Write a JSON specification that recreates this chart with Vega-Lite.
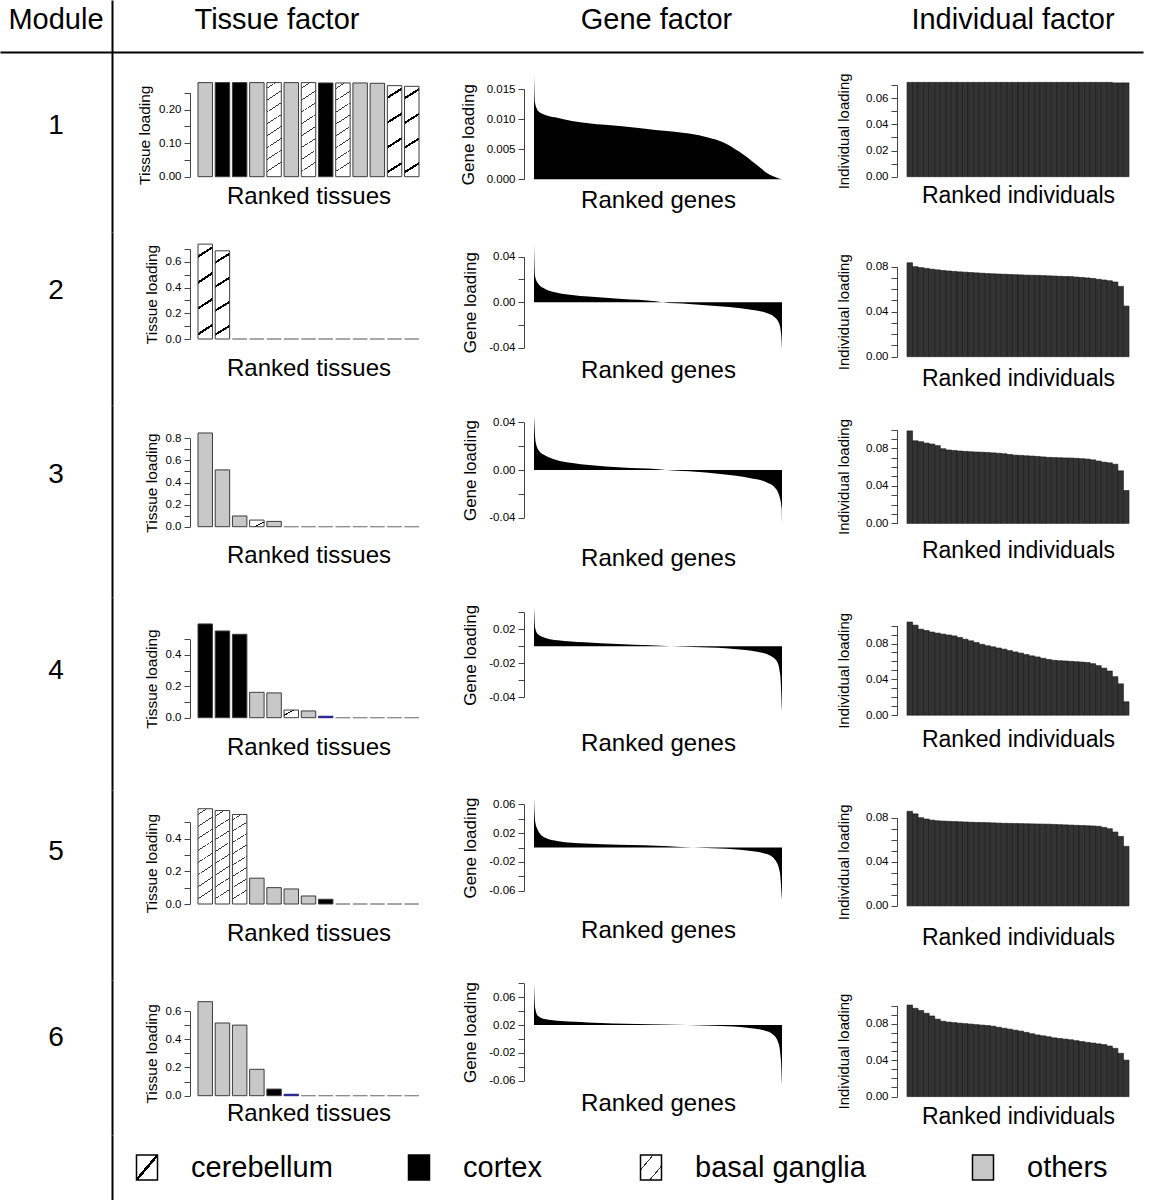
{
"$schema":"https://vega.github.io/schema/vega-lite/v6.json",
"padding":0,
"background":"#ffffff",
"config":{"font":"Liberation Sans","view":{"stroke":null},
"axis":{"grid":false,"labelFontSize":11.5,"labelColor":"#000000","tickColor":"#444444","domainColor":"#444444","tickSize":6,"labelPadding":3,"titleFontWeight":"normal","titleColor":"#000000","labelOverlap":false,"labelFlush":false},
"axisX":{"domain":false,"ticks":false,"labels":false,"titleFontSize":24,"titlePadding":0},
"axisY":{"titleFontSize":15.5}},
"datasets":{
"tissue":[
{"module":1,"rank":1,"loading":0.28,"tissue":"others"},{"module":1,"rank":2,"loading":0.28,"tissue":"cortex"},{"module":1,"rank":3,"loading":0.28,"tissue":"cortex"},{"module":1,"rank":4,"loading":0.28,"tissue":"others"},{"module":1,"rank":5,"loading":0.28,"tissue":"basal ganglia"},{"module":1,"rank":6,"loading":0.28,"tissue":"others"},{"module":1,"rank":7,"loading":0.28,"tissue":"basal ganglia"},{"module":1,"rank":8,"loading":0.279,"tissue":"cortex"},{"module":1,"rank":9,"loading":0.279,"tissue":"basal ganglia"},{"module":1,"rank":10,"loading":0.279,"tissue":"others"},{"module":1,"rank":11,"loading":0.278,"tissue":"others"},{"module":1,"rank":12,"loading":0.271,"tissue":"cerebellum"},{"module":1,"rank":13,"loading":0.269,"tissue":"cerebellum"},
{"module":2,"rank":1,"loading":0.738,"tissue":"cerebellum"},{"module":2,"rank":2,"loading":0.686,"tissue":"cerebellum"},{"module":2,"rank":3,"loading":0,"tissue":"others"},{"module":2,"rank":4,"loading":0,"tissue":"others"},{"module":2,"rank":5,"loading":0,"tissue":"others"},{"module":2,"rank":6,"loading":0,"tissue":"others"},{"module":2,"rank":7,"loading":0,"tissue":"others"},{"module":2,"rank":8,"loading":0,"tissue":"others"},{"module":2,"rank":9,"loading":0,"tissue":"others"},{"module":2,"rank":10,"loading":0,"tissue":"others"},{"module":2,"rank":11,"loading":0,"tissue":"others"},{"module":2,"rank":12,"loading":0,"tissue":"others"},{"module":2,"rank":13,"loading":0,"tissue":"others"},
{"module":3,"rank":1,"loading":0.848,"tissue":"others"},{"module":3,"rank":2,"loading":0.514,"tissue":"others"},{"module":3,"rank":3,"loading":0.097,"tissue":"others"},{"module":3,"rank":4,"loading":0.06,"tissue":"cerebellum"},{"module":3,"rank":5,"loading":0.048,"tissue":"others"},{"module":3,"rank":6,"loading":0,"tissue":"others"},{"module":3,"rank":7,"loading":0,"tissue":"others"},{"module":3,"rank":8,"loading":0,"tissue":"others"},{"module":3,"rank":9,"loading":0,"tissue":"others"},{"module":3,"rank":10,"loading":0,"tissue":"others"},{"module":3,"rank":11,"loading":0,"tissue":"others"},{"module":3,"rank":12,"loading":0,"tissue":"others"},{"module":3,"rank":13,"loading":0,"tissue":"others"},
{"module":4,"rank":1,"loading":0.598,"tissue":"cortex"},{"module":4,"rank":2,"loading":0.553,"tissue":"cortex"},{"module":4,"rank":3,"loading":0.532,"tissue":"cortex"},{"module":4,"rank":4,"loading":0.162,"tissue":"others"},{"module":4,"rank":5,"loading":0.158,"tissue":"others"},{"module":4,"rank":6,"loading":0.049,"tissue":"cerebellum"},{"module":4,"rank":7,"loading":0.043,"tissue":"others"},{"module":4,"rank":8,"loading":0.009,"tissue":"unlabelled"},{"module":4,"rank":9,"loading":0,"tissue":"others"},{"module":4,"rank":10,"loading":0,"tissue":"others"},{"module":4,"rank":11,"loading":0,"tissue":"others"},{"module":4,"rank":12,"loading":0,"tissue":"others"},{"module":4,"rank":13,"loading":0,"tissue":"others"},
{"module":5,"rank":1,"loading":0.583,"tissue":"basal ganglia"},{"module":5,"rank":2,"loading":0.572,"tissue":"basal ganglia"},{"module":5,"rank":3,"loading":0.548,"tissue":"basal ganglia"},{"module":5,"rank":4,"loading":0.158,"tissue":"others"},{"module":5,"rank":5,"loading":0.1,"tissue":"others"},{"module":5,"rank":6,"loading":0.092,"tissue":"others"},{"module":5,"rank":7,"loading":0.049,"tissue":"others"},{"module":5,"rank":8,"loading":0.029,"tissue":"cortex"},{"module":5,"rank":9,"loading":0,"tissue":"others"},{"module":5,"rank":10,"loading":0,"tissue":"others"},{"module":5,"rank":11,"loading":0,"tissue":"others"},{"module":5,"rank":12,"loading":0,"tissue":"others"},{"module":5,"rank":13,"loading":0,"tissue":"others"},
{"module":6,"rank":1,"loading":0.666,"tissue":"others"},{"module":6,"rank":2,"loading":0.515,"tissue":"others"},{"module":6,"rank":3,"loading":0.5,"tissue":"others"},{"module":6,"rank":4,"loading":0.187,"tissue":"others"},{"module":6,"rank":5,"loading":0.047,"tissue":"cortex"},{"module":6,"rank":6,"loading":0.01,"tissue":"unlabelled"},{"module":6,"rank":7,"loading":0,"tissue":"others"},{"module":6,"rank":8,"loading":0,"tissue":"others"},{"module":6,"rank":9,"loading":0,"tissue":"others"},{"module":6,"rank":10,"loading":0,"tissue":"others"},{"module":6,"rank":11,"loading":0,"tissue":"others"},{"module":6,"rank":12,"loading":0,"tissue":"others"},{"module":6,"rank":13,"loading":0,"tissue":"others"}
],
"gene":[
{"module":1,"rank":0,"loading":0.0174},{"module":1,"rank":0.4,"loading":0.0127},{"module":1,"rank":1.8,"loading":0.0113},{"module":1,"rank":4.5,"loading":0.0107},{"module":1,"rank":8.5,"loading":0.0103},{"module":1,"rank":15.3,"loading":0.0097},{"module":1,"rank":22,"loading":0.0093},{"module":1,"rank":35.5,"loading":0.0088},{"module":1,"rank":49,"loading":0.0082},{"module":1,"rank":62.5,"loading":0.0076},{"module":1,"rank":70.6,"loading":0.0069},{"module":1,"rank":76,"loading":0.0062},{"module":1,"rank":82.7,"loading":0.0046},{"module":1,"rank":89.5,"loading":0.0025},{"module":1,"rank":94.9,"loading":0.0008},{"module":1,"rank":100,"loading":0},
{"module":2,"rank":0,"loading":0.051},{"module":2,"rank":0.4,"loading":0.023},{"module":2,"rank":1.8,"loading":0.016},{"module":2,"rank":4.5,"loading":0.0117},{"module":2,"rank":8.5,"loading":0.0088},{"module":2,"rank":15.3,"loading":0.0064},{"module":2,"rank":22,"loading":0.005},{"module":2,"rank":35.5,"loading":0.0029},{"module":2,"rank":49,"loading":0.0009},{"module":2,"rank":51.7,"loading":0},{"module":2,"rank":62.5,"loading":-0.0015},{"module":2,"rank":76,"loading":-0.0038},{"module":2,"rank":86.8,"loading":-0.0064},{"module":2,"rank":93.5,"loading":-0.0093},{"module":2,"rank":96.9,"loading":-0.013},{"module":2,"rank":98.9,"loading":-0.019},{"module":2,"rank":99.7,"loading":-0.029},{"module":2,"rank":100,"loading":-0.0415},
{"module":3,"rank":0,"loading":0.0456},{"module":3,"rank":0.7,"loading":0.023},{"module":3,"rank":2,"loading":0.0162},{"module":3,"rank":4.7,"loading":0.012},{"module":3,"rank":8.7,"loading":0.0087},{"module":3,"rank":15.5,"loading":0.0059},{"module":3,"rank":22.2,"loading":0.0042},{"module":3,"rank":35.7,"loading":0.0022},{"module":3,"rank":49.1,"loading":0.0008},{"module":3,"rank":53.2,"loading":0},{"module":3,"rank":62.6,"loading":-0.0011},{"module":3,"rank":76.1,"loading":-0.0036},{"module":3,"rank":86.9,"loading":-0.0067},{"module":3,"rank":93.7,"loading":-0.0103},{"module":3,"rank":97,"loading":-0.0145},{"module":3,"rank":99.1,"loading":-0.023},{"module":3,"rank":99.9,"loading":-0.033},{"module":3,"rank":100,"loading":-0.044},
{"module":4,"rank":0,"loading":0.0467},{"module":4,"rank":0.5,"loading":0.0212},{"module":4,"rank":1.6,"loading":0.0141},{"module":4,"rank":4.3,"loading":0.0102},{"module":4,"rank":9.6,"loading":0.0071},{"module":4,"rank":20.3,"loading":0.0047},{"module":4,"rank":33.7,"loading":0.0027},{"module":4,"rank":47.1,"loading":0.0012},{"module":4,"rank":55.2,"loading":0},{"module":4,"rank":67.2,"loading":-0.0012},{"module":4,"rank":80.6,"loading":-0.0031},{"module":4,"rank":90,"loading":-0.0063},{"module":4,"rank":95.3,"loading":-0.011},{"module":4,"rank":98,"loading":-0.018},{"module":4,"rank":99.3,"loading":-0.034},{"module":4,"rank":100,"loading":-0.077},
{"module":5,"rank":0,"loading":0.068},{"module":5,"rank":0.5,"loading":0.0356},{"module":5,"rank":1.6,"loading":0.024},{"module":5,"rank":4.3,"loading":0.0139},{"module":5,"rank":9.8,"loading":0.0088},{"module":5,"rank":20.6,"loading":0.0055},{"module":5,"rank":34.2,"loading":0.0037},{"module":5,"rank":54.5,"loading":0.0018},{"module":5,"rank":64,"loading":0},{"module":5,"rank":74.9,"loading":-0.0014},{"module":5,"rank":85.8,"loading":-0.0042},{"module":5,"rank":93.9,"loading":-0.0092},{"module":5,"rank":97.3,"loading":-0.0176},{"module":5,"rank":99.1,"loading":-0.0338},{"module":5,"rank":100,"loading":-0.073},
{"module":6,"rank":0,"loading":0.0795},{"module":6,"rank":0.5,"loading":0.0438},{"module":6,"rank":1.6,"loading":0.0333},{"module":6,"rank":4.3,"loading":0.0286},{"module":6,"rank":11,"loading":0.0257},{"module":6,"rank":21.7,"loading":0.0238},{"module":6,"rank":41.8,"loading":0.0214},{"module":6,"rank":61.8,"loading":0.02},{"module":6,"rank":75.2,"loading":0.0186},{"module":6,"rank":85.9,"loading":0.0162},{"module":6,"rank":92.6,"loading":0.0124},{"module":6,"rank":96.6,"loading":0.0057},{"module":6,"rank":98.6,"loading":-0.0062},{"module":6,"rank":99.6,"loading":-0.032},{"module":6,"rank":100,"loading":-0.0657}
],
"indiv":[
{"module":1,"rank":1,"loading":0.072},{"module":1,"rank":2,"loading":0.072},{"module":1,"rank":3,"loading":0.072},{"module":1,"rank":4,"loading":0.072},{"module":1,"rank":5,"loading":0.072},{"module":1,"rank":6,"loading":0.072},{"module":1,"rank":7,"loading":0.072},{"module":1,"rank":8,"loading":0.072},{"module":1,"rank":9,"loading":0.072},{"module":1,"rank":10,"loading":0.072},{"module":1,"rank":11,"loading":0.072},{"module":1,"rank":12,"loading":0.072},{"module":1,"rank":13,"loading":0.072},{"module":1,"rank":14,"loading":0.072},{"module":1,"rank":15,"loading":0.072},{"module":1,"rank":16,"loading":0.072},{"module":1,"rank":17,"loading":0.072},{"module":1,"rank":18,"loading":0.072},{"module":1,"rank":19,"loading":0.072},{"module":1,"rank":20,"loading":0.072},{"module":1,"rank":21,"loading":0.072},{"module":1,"rank":22,"loading":0.072},{"module":1,"rank":23,"loading":0.072},{"module":1,"rank":24,"loading":0.072},{"module":1,"rank":25,"loading":0.072},{"module":1,"rank":26,"loading":0.072},{"module":1,"rank":27,"loading":0.072},{"module":1,"rank":28,"loading":0.072},{"module":1,"rank":29,"loading":0.072},{"module":1,"rank":30,"loading":0.072},{"module":1,"rank":31,"loading":0.072},{"module":1,"rank":32,"loading":0.072},{"module":1,"rank":33,"loading":0.072},{"module":1,"rank":34,"loading":0.072},{"module":1,"rank":35,"loading":0.072},{"module":1,"rank":36,"loading":0.072},{"module":1,"rank":37,"loading":0.072},{"module":1,"rank":38,"loading":0.0716},{"module":1,"rank":39,"loading":0.0716},{"module":1,"rank":40,"loading":0.0716},
{"module":2,"rank":1,"loading":0.0835},{"module":2,"rank":2,"loading":0.08},{"module":2,"rank":3,"loading":0.0792},{"module":2,"rank":4,"loading":0.0785},{"module":2,"rank":5,"loading":0.0778},{"module":2,"rank":6,"loading":0.0772},{"module":2,"rank":7,"loading":0.0766},{"module":2,"rank":8,"loading":0.0762},{"module":2,"rank":9,"loading":0.0758},{"module":2,"rank":10,"loading":0.0754},{"module":2,"rank":11,"loading":0.0751},{"module":2,"rank":12,"loading":0.0748},{"module":2,"rank":13,"loading":0.0745},{"module":2,"rank":14,"loading":0.0742},{"module":2,"rank":15,"loading":0.0739},{"module":2,"rank":16,"loading":0.0737},{"module":2,"rank":17,"loading":0.0735},{"module":2,"rank":18,"loading":0.0733},{"module":2,"rank":19,"loading":0.0731},{"module":2,"rank":20,"loading":0.0729},{"module":2,"rank":21,"loading":0.0727},{"module":2,"rank":22,"loading":0.0725},{"module":2,"rank":23,"loading":0.0724},{"module":2,"rank":24,"loading":0.0723},{"module":2,"rank":25,"loading":0.0721},{"module":2,"rank":26,"loading":0.0719},{"module":2,"rank":27,"loading":0.0717},{"module":2,"rank":28,"loading":0.0715},{"module":2,"rank":29,"loading":0.0713},{"module":2,"rank":30,"loading":0.0712},{"module":2,"rank":31,"loading":0.0708},{"module":2,"rank":32,"loading":0.0704},{"module":2,"rank":33,"loading":0.07},{"module":2,"rank":34,"loading":0.0695},{"module":2,"rank":35,"loading":0.0688},{"module":2,"rank":36,"loading":0.0682},{"module":2,"rank":37,"loading":0.0675},{"module":2,"rank":38,"loading":0.0664},{"module":2,"rank":39,"loading":0.0625},{"module":2,"rank":40,"loading":0.045},
{"module":3,"rank":1,"loading":0.0985},{"module":3,"rank":2,"loading":0.088},{"module":3,"rank":3,"loading":0.087},{"module":3,"rank":4,"loading":0.0855},{"module":3,"rank":5,"loading":0.0845},{"module":3,"rank":6,"loading":0.0828},{"module":3,"rank":7,"loading":0.0795},{"module":3,"rank":8,"loading":0.0782},{"module":3,"rank":9,"loading":0.0776},{"module":3,"rank":10,"loading":0.0771},{"module":3,"rank":11,"loading":0.0767},{"module":3,"rank":12,"loading":0.0763},{"module":3,"rank":13,"loading":0.076},{"module":3,"rank":14,"loading":0.0758},{"module":3,"rank":15,"loading":0.0755},{"module":3,"rank":16,"loading":0.0751},{"module":3,"rank":17,"loading":0.0747},{"module":3,"rank":18,"loading":0.0742},{"module":3,"rank":19,"loading":0.0734},{"module":3,"rank":20,"loading":0.0727},{"module":3,"rank":21,"loading":0.0724},{"module":3,"rank":22,"loading":0.072},{"module":3,"rank":23,"loading":0.0717},{"module":3,"rank":24,"loading":0.0713},{"module":3,"rank":25,"loading":0.0708},{"module":3,"rank":26,"loading":0.0703},{"module":3,"rank":27,"loading":0.0701},{"module":3,"rank":28,"loading":0.0699},{"module":3,"rank":29,"loading":0.0697},{"module":3,"rank":30,"loading":0.0696},{"module":3,"rank":31,"loading":0.0693},{"module":3,"rank":32,"loading":0.0689},{"module":3,"rank":33,"loading":0.0685},{"module":3,"rank":34,"loading":0.0677},{"module":3,"rank":35,"loading":0.0664},{"module":3,"rank":36,"loading":0.0652},{"module":3,"rank":37,"loading":0.0645},{"module":3,"rank":38,"loading":0.063},{"module":3,"rank":39,"loading":0.056},{"module":3,"rank":40,"loading":0.035},
{"module":4,"rank":1,"loading":0.104},{"module":4,"rank":2,"loading":0.1005},{"module":4,"rank":3,"loading":0.096},{"module":4,"rank":4,"loading":0.0945},{"module":4,"rank":5,"loading":0.0928},{"module":4,"rank":6,"loading":0.0916},{"module":4,"rank":7,"loading":0.0905},{"module":4,"rank":8,"loading":0.0895},{"module":4,"rank":9,"loading":0.0885},{"module":4,"rank":10,"loading":0.0868},{"module":4,"rank":11,"loading":0.0848},{"module":4,"rank":12,"loading":0.083},{"module":4,"rank":13,"loading":0.0811},{"module":4,"rank":14,"loading":0.0791},{"module":4,"rank":15,"loading":0.0775},{"module":4,"rank":16,"loading":0.0763},{"module":4,"rank":17,"loading":0.075},{"module":4,"rank":18,"loading":0.0737},{"module":4,"rank":19,"loading":0.0721},{"module":4,"rank":20,"loading":0.0706},{"module":4,"rank":21,"loading":0.0693},{"module":4,"rank":22,"loading":0.0677},{"module":4,"rank":23,"loading":0.0662},{"module":4,"rank":24,"loading":0.065},{"module":4,"rank":25,"loading":0.0635},{"module":4,"rank":26,"loading":0.0622},{"module":4,"rank":27,"loading":0.0613},{"module":4,"rank":28,"loading":0.0608},{"module":4,"rank":29,"loading":0.0605},{"module":4,"rank":30,"loading":0.0601},{"module":4,"rank":31,"loading":0.0597},{"module":4,"rank":32,"loading":0.0593},{"module":4,"rank":33,"loading":0.0588},{"module":4,"rank":34,"loading":0.0575},{"module":4,"rank":35,"loading":0.0553},{"module":4,"rank":36,"loading":0.0525},{"module":4,"rank":37,"loading":0.0493},{"module":4,"rank":38,"loading":0.043},{"module":4,"rank":39,"loading":0.035},{"module":4,"rank":40,"loading":0.015},
{"module":5,"rank":1,"loading":0.0858},{"module":5,"rank":2,"loading":0.0835},{"module":5,"rank":3,"loading":0.08},{"module":5,"rank":4,"loading":0.0788},{"module":5,"rank":5,"loading":0.0778},{"module":5,"rank":6,"loading":0.0772},{"module":5,"rank":7,"loading":0.0769},{"module":5,"rank":8,"loading":0.0767},{"module":5,"rank":9,"loading":0.0765},{"module":5,"rank":10,"loading":0.0763},{"module":5,"rank":11,"loading":0.0761},{"module":5,"rank":12,"loading":0.0759},{"module":5,"rank":13,"loading":0.0757},{"module":5,"rank":14,"loading":0.0756},{"module":5,"rank":15,"loading":0.0755},{"module":5,"rank":16,"loading":0.0753},{"module":5,"rank":17,"loading":0.0751},{"module":5,"rank":18,"loading":0.0749},{"module":5,"rank":19,"loading":0.0748},{"module":5,"rank":20,"loading":0.0747},{"module":5,"rank":21,"loading":0.0746},{"module":5,"rank":22,"loading":0.0745},{"module":5,"rank":23,"loading":0.0744},{"module":5,"rank":24,"loading":0.0743},{"module":5,"rank":25,"loading":0.0742},{"module":5,"rank":26,"loading":0.0741},{"module":5,"rank":27,"loading":0.0739},{"module":5,"rank":28,"loading":0.0737},{"module":5,"rank":29,"loading":0.0735},{"module":5,"rank":30,"loading":0.0733},{"module":5,"rank":31,"loading":0.0731},{"module":5,"rank":32,"loading":0.0729},{"module":5,"rank":33,"loading":0.0727},{"module":5,"rank":34,"loading":0.0725},{"module":5,"rank":35,"loading":0.0722},{"module":5,"rank":36,"loading":0.0712},{"module":5,"rank":37,"loading":0.07},{"module":5,"rank":38,"loading":0.067},{"module":5,"rank":39,"loading":0.063},{"module":5,"rank":40,"loading":0.054},
{"module":6,"rank":1,"loading":0.1005},{"module":6,"rank":2,"loading":0.0969},{"module":6,"rank":3,"loading":0.0945},{"module":6,"rank":4,"loading":0.0915},{"module":6,"rank":5,"loading":0.0885},{"module":6,"rank":6,"loading":0.085},{"module":6,"rank":7,"loading":0.0827},{"module":6,"rank":8,"loading":0.0818},{"module":6,"rank":9,"loading":0.0812},{"module":6,"rank":10,"loading":0.0806},{"module":6,"rank":11,"loading":0.0801},{"module":6,"rank":12,"loading":0.0796},{"module":6,"rank":13,"loading":0.079},{"module":6,"rank":14,"loading":0.0785},{"module":6,"rank":15,"loading":0.078},{"module":6,"rank":16,"loading":0.0773},{"module":6,"rank":17,"loading":0.0761},{"module":6,"rank":18,"loading":0.075},{"module":6,"rank":19,"loading":0.074},{"module":6,"rank":20,"loading":0.0729},{"module":6,"rank":21,"loading":0.0719},{"module":6,"rank":22,"loading":0.0705},{"module":6,"rank":23,"loading":0.069},{"module":6,"rank":24,"loading":0.0677},{"module":6,"rank":25,"loading":0.0667},{"module":6,"rank":26,"loading":0.0657},{"module":6,"rank":27,"loading":0.0645},{"module":6,"rank":28,"loading":0.0638},{"module":6,"rank":29,"loading":0.0631},{"module":6,"rank":30,"loading":0.0624},{"module":6,"rank":31,"loading":0.0614},{"module":6,"rank":32,"loading":0.0604},{"module":6,"rank":33,"loading":0.0595},{"module":6,"rank":34,"loading":0.0588},{"module":6,"rank":35,"loading":0.0579},{"module":6,"rank":36,"loading":0.0571},{"module":6,"rank":37,"loading":0.0555},{"module":6,"rank":38,"loading":0.053},{"module":6,"rank":39,"loading":0.0475},{"module":6,"rank":40,"loading":0.04}
]},
"columns":4,
"spacing":{"row":0,"column":78},
"bounds":"flush",
"align":"each",
"concat":[
{"width":112,"height":52,"data":{"values":[{"h":"Module"}]},"layer":[
 {"mark":{"type":"text","fontSize":29,"dy":-6},"encoding":{"text":{"field":"h"},"y":{"field":"h","type":"nominal","axis":{"orient":"right","domain":true,"domainColor":"#000000","domainWidth":2,"ticks":false,"labels":false,"title":null}}}},
 {"mark":{"type":"rule","opacity":0},"encoding":{"x":{"datum":0,"type":"quantitative","scale":{"domain":[0,1],"range":[0,1143]},"axis":{"orient":"bottom","domain":true,"domainColor":"#000000","domainWidth":2,"ticks":false,"labels":false,"title":null}},"x2":{"datum":1}}}
]},
{"width":256,"height":52,"data":{"values":[{"h":"Tissue factor"}]},"mark":{"type":"text","fontSize":29,"dx":-41,"dy":-6},"encoding":{"text":{"field":"h"}}},
{"width":295,"height":52,"data":{"values":[{"h":"Gene factor"}]},"mark":{"type":"text","fontSize":29,"dx":-15,"dy":-6},"encoding":{"text":{"field":"h"}}},
{"width":254,"height":52,"data":{"values":[{"h":"Individual factor"}]},"mark":{"type":"text","fontSize":29,"dx":-11,"dy":-6},"encoding":{"text":{"field":"h"}}},

{"width":112,"height":180,"data":{"values":[{"m":"1"}]},"mark":{"type":"text","fontSize":28,"dy":-16},"encoding":{"text":{"field":"m"},"y":{"field":"m","type":"nominal","axis":{"orient":"right","domain":true,"domainColor":"#000000","domainWidth":2,"ticks":false,"labels":false,"title":null}}}},
{"width":256,"height":132,"data":{"name":"tissue"},"transform":[{"filter":"datum.module == 1"}],"mark":{"type":"bar","strokeWidth":1},"encoding":{
 "x":{"field":"rank","type":"ordinal","scale":{"domain":[1,2,3,4,5,6,7,8,9,10,11,12,13],"range":[8,229],"paddingInner":0.16,"paddingOuter":0},"axis":{"title":"Ranked tissues"}},
 "y":{"field":"loading","type":"quantitative","scale":{"domain":[0,0.25],"range":[124.7,40.7],"nice":false},"axis":{"title":"Tissue loading","values":[0,0.05,0.1,0.15,0.2,0.25],"labelExpr":"round(datum.value*100)%10==0 ? format(datum.value,'.2f') : ''","titlePadding":6}},
 "fill":{"condition":[{"test":"datum.tissue=='cortex'","value":"#000000"},{"test":"datum.tissue=='unlabelled'","value":"#1e1e8c"},{"test":"datum.tissue=='cerebellum'","value":{"gradient":"linear","x1":0,"y1":0,"x2":0.1,"y2":1,"stops":[{"offset":0,"color":"#ffffff"},{"offset":0.118,"color":"#ffffff"},{"offset":0.118,"color":"#000000"},{"offset":0.145,"color":"#000000"},{"offset":0.145,"color":"#ffffff"},{"offset":0.388,"color":"#ffffff"},{"offset":0.388,"color":"#000000"},{"offset":0.415,"color":"#000000"},{"offset":0.415,"color":"#ffffff"},{"offset":0.658,"color":"#ffffff"},{"offset":0.658,"color":"#000000"},{"offset":0.685,"color":"#000000"},{"offset":0.685,"color":"#ffffff"},{"offset":0.928,"color":"#ffffff"},{"offset":0.928,"color":"#000000"},{"offset":0.955,"color":"#000000"},{"offset":0.955,"color":"#ffffff"},{"offset":1,"color":"#ffffff"}]}},{"test":"datum.tissue=='basal ganglia'","value":{"gradient":"linear","x1":0,"y1":0,"x2":0.1,"y2":1,"stops":[{"offset":0,"color":"#ffffff"},{"offset":0.055,"color":"#ffffff"},{"offset":0.055,"color":"#333333"},{"offset":0.065,"color":"#333333"},{"offset":0.065,"color":"#ffffff"},{"offset":0.18,"color":"#ffffff"},{"offset":0.18,"color":"#333333"},{"offset":0.19,"color":"#333333"},{"offset":0.19,"color":"#ffffff"},{"offset":0.305,"color":"#ffffff"},{"offset":0.305,"color":"#333333"},{"offset":0.315,"color":"#333333"},{"offset":0.315,"color":"#ffffff"},{"offset":0.43,"color":"#ffffff"},{"offset":0.43,"color":"#333333"},{"offset":0.44,"color":"#333333"},{"offset":0.44,"color":"#ffffff"},{"offset":0.555,"color":"#ffffff"},{"offset":0.555,"color":"#333333"},{"offset":0.565,"color":"#333333"},{"offset":0.565,"color":"#ffffff"},{"offset":0.68,"color":"#ffffff"},{"offset":0.68,"color":"#333333"},{"offset":0.69,"color":"#333333"},{"offset":0.69,"color":"#ffffff"},{"offset":0.805,"color":"#ffffff"},{"offset":0.805,"color":"#333333"},{"offset":0.815,"color":"#333333"},{"offset":0.815,"color":"#ffffff"},{"offset":0.93,"color":"#ffffff"},{"offset":0.93,"color":"#333333"},{"offset":0.94,"color":"#333333"},{"offset":0.94,"color":"#ffffff"},{"offset":1,"color":"#ffffff"}]}}],"value":"#c8c8c8"},
 "stroke":{"condition":[{"test":"datum.loading==0","value":"#8a8a8a"},{"test":"datum.tissue=='unlabelled'","value":"#1e1e8c"}],"value":"#3c3c3c"}}},
{"width":295,"height":136,"data":{"name":"gene"},"transform":[{"filter":"datum.module == 1"}],"mark":{"type":"area","color":"#000000","interpolate":"monotone"},"encoding":{
 "x":{"field":"rank","type":"quantitative","scale":{"domain":[0,100],"range":[10,258],"nice":false},"axis":{"title":"Ranked genes"}},
 "y":{"field":"loading","type":"quantitative","scale":{"domain":[0,0.015],"range":[127.3,37],"nice":false,"zero":false},"axis":{"title":"Gene loading","values":[0,0.005,0.01,0.015],"labelExpr":"format(datum.value,'.3f')","titleFontSize":17,"titlePadding":9}},
 "y2":{"datum":0}}},
{"width":254,"height":132,"data":{"name":"indiv"},"transform":[{"filter":"datum.module == 1"}],"mark":{"type":"bar","fill":"#333333","stroke":"#141414","strokeWidth":0.6},"encoding":{
 "x":{"field":"rank","type":"ordinal","scale":{"range":[10,232],"paddingInner":0,"paddingOuter":0},"axis":{"title":"Ranked individuals","titleFontSize":23}},
 "y":{"field":"loading","type":"quantitative","scale":{"domain":[0,0.07],"range":[124.7,33],"nice":false},"axis":{"title":"Individual loading","values":[0,0.01,0.02,0.03,0.04,0.05,0.06,0.07],"labelExpr":"round(datum.value*100)%2==0 ? format(datum.value,'.2f') : ''","titleFontSize":15,"titlePadding":14}}}},

{"width":112,"height":173,"data":{"values":[{"m":"2"}]},"mark":{"type":"text","fontSize":28,"dy":-27.5},"encoding":{"text":{"field":"m"},"y":{"field":"m","type":"nominal","axis":{"orient":"right","domain":true,"domainColor":"#000000","domainWidth":2,"ticks":false,"labels":false,"title":null}}}},
{"width":256,"height":124,"data":{"name":"tissue"},"transform":[{"filter":"datum.module == 2"}],"mark":{"type":"bar","strokeWidth":1},"encoding":{
 "x":{"field":"rank","type":"ordinal","scale":{"domain":[1,2,3,4,5,6,7,8,9,10,11,12,13],"range":[8,229],"paddingInner":0.16,"paddingOuter":0},"axis":{"title":"Ranked tissues"}},
 "y":{"field":"loading","type":"quantitative","scale":{"domain":[0,0.7],"range":[107,17],"nice":false},"axis":{"title":"Tissue loading","values":[0,0.1,0.2,0.3,0.4,0.5,0.6,0.7],"labelExpr":"round(datum.value*10)%2==0 ? format(datum.value,'.1f') : ''","titlePadding":6}},
 "fill":{"condition":[{"test":"datum.tissue=='cortex'","value":"#000000"},{"test":"datum.tissue=='unlabelled'","value":"#1e1e8c"},{"test":"datum.tissue=='cerebellum'","value":{"gradient":"linear","x1":0,"y1":0,"x2":0.1,"y2":1,"stops":[{"offset":0,"color":"#ffffff"},{"offset":0.118,"color":"#ffffff"},{"offset":0.118,"color":"#000000"},{"offset":0.145,"color":"#000000"},{"offset":0.145,"color":"#ffffff"},{"offset":0.388,"color":"#ffffff"},{"offset":0.388,"color":"#000000"},{"offset":0.415,"color":"#000000"},{"offset":0.415,"color":"#ffffff"},{"offset":0.658,"color":"#ffffff"},{"offset":0.658,"color":"#000000"},{"offset":0.685,"color":"#000000"},{"offset":0.685,"color":"#ffffff"},{"offset":0.928,"color":"#ffffff"},{"offset":0.928,"color":"#000000"},{"offset":0.955,"color":"#000000"},{"offset":0.955,"color":"#ffffff"},{"offset":1,"color":"#ffffff"}]}}],"value":"#c8c8c8"},
 "stroke":{"condition":[{"test":"datum.loading==0","value":"#8a8a8a"},{"test":"datum.tissue=='unlabelled'","value":"#1e1e8c"}],"value":"#3c3c3c"}}},
{"width":295,"height":126,"data":{"name":"gene"},"transform":[{"filter":"datum.module == 2"}],"mark":{"type":"area","color":"#000000","interpolate":"monotone"},"encoding":{
 "x":{"field":"rank","type":"quantitative","scale":{"domain":[0,100],"range":[10,258],"nice":false},"axis":{"title":"Ranked genes"}},
 "y":{"field":"loading","type":"quantitative","scale":{"domain":[-0.04,0.04],"range":[115.7,24.7],"nice":false,"zero":false},"axis":{"title":"Gene loading","values":[-0.04,-0.02,0,0.02,0.04],"labelExpr":"round(datum.value*100)%4==0 ? replace(format(datum.value,'.2f'),'\u2212','-') : ''","titleFontSize":17,"titlePadding":9}},
 "y2":{"datum":0}}},
{"width":254,"height":135,"data":{"name":"indiv"},"transform":[{"filter":"datum.module == 2"}],"mark":{"type":"bar","fill":"#333333","stroke":"#141414","strokeWidth":0.6},"encoding":{
 "x":{"field":"rank","type":"ordinal","scale":{"range":[10,232],"paddingInner":0,"paddingOuter":0},"axis":{"title":"Ranked individuals","titleFontSize":23}},
 "y":{"field":"loading","type":"quantitative","scale":{"domain":[0,0.08],"range":[124.7,34.7],"nice":false},"axis":{"title":"Individual loading","values":[0,0.01,0.02,0.03,0.04,0.05,0.06,0.07,0.08],"labelExpr":"round(datum.value*100)%4==0 ? format(datum.value,'.2f') : ''","titleFontSize":15,"titlePadding":14}}}},

{"width":112,"height":192,"data":{"values":[{"m":"3"}]},"mark":{"type":"text","fontSize":28,"dy":-26},"encoding":{"text":{"field":"m"},"y":{"field":"m","type":"nominal","axis":{"orient":"right","domain":true,"domainColor":"#000000","domainWidth":2,"ticks":false,"labels":false,"title":null}}}},
{"width":256,"height":138,"data":{"name":"tissue"},"transform":[{"filter":"datum.module == 3"}],"mark":{"type":"bar","strokeWidth":1},"encoding":{
 "x":{"field":"rank","type":"ordinal","scale":{"domain":[1,2,3,4,5,6,7,8,9,10,11,12,13],"range":[8,229],"paddingInner":0.16,"paddingOuter":0},"axis":{"title":"Ranked tissues"}},
 "y":{"field":"loading","type":"quantitative","scale":{"domain":[0,0.8],"range":[121.7,33.3],"nice":false},"axis":{"title":"Tissue loading","values":[0,0.1,0.2,0.3,0.4,0.5,0.6,0.7,0.8],"labelExpr":"round(datum.value*10)%2==0 ? format(datum.value,'.1f') : ''","titlePadding":6}},
 "fill":{"condition":[{"test":"datum.tissue=='cortex'","value":"#000000"},{"test":"datum.tissue=='unlabelled'","value":"#1e1e8c"},{"test":"datum.tissue=='cerebellum'","value":{"gradient":"linear","x1":0,"y1":0,"x2":1,"y2":1,"stops":[{"offset":0,"color":"#ffffff"},{"offset":0.62,"color":"#ffffff"},{"offset":0.62,"color":"#000000"},{"offset":0.7,"color":"#000000"},{"offset":0.7,"color":"#ffffff"},{"offset":1,"color":"#ffffff"}]}}],"value":"#c8c8c8"},
 "stroke":{"condition":[{"test":"datum.loading==0","value":"#8a8a8a"},{"test":"datum.tissue=='unlabelled'","value":"#1e1e8c"}],"value":"#3c3c3c"}}},
{"width":295,"height":141,"data":{"name":"gene"},"transform":[{"filter":"datum.module == 3"}],"mark":{"type":"area","color":"#000000","interpolate":"monotone"},"encoding":{
 "x":{"field":"rank","type":"quantitative","scale":{"domain":[0,100],"range":[10,258],"nice":false},"axis":{"title":"Ranked genes"}},
 "y":{"field":"loading","type":"quantitative","scale":{"domain":[-0.04,0.04],"range":[112.7,17.3],"nice":false,"zero":false},"axis":{"title":"Gene loading","values":[-0.04,-0.02,0,0.02,0.04],"labelExpr":"round(datum.value*100)%4==0 ? replace(format(datum.value,'.2f'),'\u2212','-') : ''","titleFontSize":17,"titlePadding":9}},
 "y2":{"datum":0}}},
{"width":254,"height":134,"data":{"name":"indiv"},"transform":[{"filter":"datum.module == 3"}],"mark":{"type":"bar","fill":"#333333","stroke":"#141414","strokeWidth":0.6},"encoding":{
 "x":{"field":"rank","type":"ordinal","scale":{"range":[10,232],"paddingInner":0,"paddingOuter":0},"axis":{"title":"Ranked individuals","titleFontSize":23}},
 "y":{"field":"loading","type":"quantitative","scale":{"domain":[0,0.1],"range":[118.4,24.5],"nice":false},"axis":{"title":"Individual loading","values":[0,0.01,0.02,0.03,0.04,0.05,0.06,0.07,0.08,0.09,0.1],"labelExpr":"round(datum.value*100)%4==0 ? format(datum.value,'.2f') : ''","titleFontSize":15,"titlePadding":14}}}},

{"width":112,"height":193,"data":{"values":[{"m":"4"}]},"mark":{"type":"text","fontSize":28,"dy":-22.5},"encoding":{"text":{"field":"m"},"y":{"field":"m","type":"nominal","axis":{"orient":"right","domain":true,"domainColor":"#000000","domainWidth":2,"ticks":false,"labels":false,"title":null}}}},
{"width":256,"height":138,"data":{"name":"tissue"},"transform":[{"filter":"datum.module == 4"}],"mark":{"type":"bar","strokeWidth":1},"encoding":{
 "x":{"field":"rank","type":"ordinal","scale":{"domain":[1,2,3,4,5,6,7,8,9,10,11,12,13],"range":[8,229],"paddingInner":0.16,"paddingOuter":0},"axis":{"title":"Ranked tissues"}},
 "y":{"field":"loading","type":"quantitative","scale":{"domain":[0,0.5],"range":[120.7,42.3],"nice":false},"axis":{"title":"Tissue loading","values":[0,0.1,0.2,0.3,0.4,0.5],"labelExpr":"round(datum.value*10)%2==0 ? format(datum.value,'.1f') : ''","titlePadding":6}},
 "fill":{"condition":[{"test":"datum.tissue=='cortex'","value":"#000000"},{"test":"datum.tissue=='unlabelled'","value":"#1e1e8c"},{"test":"datum.tissue=='cerebellum'","value":{"gradient":"linear","x1":0,"y1":0,"x2":1,"y2":1,"stops":[{"offset":0,"color":"#ffffff"},{"offset":0.3,"color":"#ffffff"},{"offset":0.3,"color":"#000000"},{"offset":0.38,"color":"#000000"},{"offset":0.38,"color":"#ffffff"},{"offset":1,"color":"#ffffff"}]}}],"value":"#c8c8c8"},
 "stroke":{"condition":[{"test":"datum.loading==0","value":"#8a8a8a"},{"test":"datum.tissue=='unlabelled'","value":"#1e1e8c"}],"value":"#3c3c3c"}}},
{"width":295,"height":134,"data":{"name":"gene"},"transform":[{"filter":"datum.module == 4"}],"mark":{"type":"area","color":"#000000","interpolate":"monotone"},"encoding":{
 "x":{"field":"rank","type":"quantitative","scale":{"domain":[0,100],"range":[10,258],"nice":false},"axis":{"title":"Ranked genes"}},
 "y":{"field":"loading","type":"quantitative","scale":{"domain":[-0.06,0.04],"range":[100.3,15.3],"nice":false,"zero":false},"axis":{"title":"Gene loading","values":[-0.06,-0.04,-0.02,0,0.02,0.04],"labelExpr":"datum.value==0.02 ? '0.02' : datum.value==-0.02 ? '-0.02' : datum.value==-0.06 ? '-0.04' : ''","titleFontSize":17,"titlePadding":9}},
 "y2":{"datum":0}}},
{"width":254,"height":131,"data":{"name":"indiv"},"transform":[{"filter":"datum.module == 4"}],"mark":{"type":"bar","fill":"#333333","stroke":"#141414","strokeWidth":0.6},"encoding":{
 "x":{"field":"rank","type":"ordinal","scale":{"range":[10,232],"paddingInner":0,"paddingOuter":0},"axis":{"title":"Ranked individuals","titleFontSize":23}},
 "y":{"field":"loading","type":"quantitative","scale":{"domain":[0,0.1],"range":[118.2,28.6],"nice":false},"axis":{"title":"Individual loading","values":[0,0.01,0.02,0.03,0.04,0.05,0.06,0.07,0.08,0.09,0.1],"labelExpr":"round(datum.value*100)%4==0 ? format(datum.value,'.2f') : ''","titleFontSize":15,"titlePadding":14}}}},

{"width":112,"height":190,"data":{"values":[{"m":"5"}]},"mark":{"type":"text","fontSize":28,"dy":-33},"encoding":{"text":{"field":"m"},"y":{"field":"m","type":"nominal","axis":{"orient":"right","domain":true,"domainColor":"#000000","domainWidth":2,"ticks":false,"labels":false,"title":null}}}},
{"width":256,"height":131,"data":{"name":"tissue"},"transform":[{"filter":"datum.module == 5"}],"mark":{"type":"bar","strokeWidth":1},"encoding":{
 "x":{"field":"rank","type":"ordinal","scale":{"domain":[1,2,3,4,5,6,7,8,9,10,11,12,13],"range":[8,229],"paddingInner":0.16,"paddingOuter":0},"axis":{"title":"Ranked tissues"}},
 "y":{"field":"loading","type":"quantitative","scale":{"domain":[0,0.5],"range":[114,32.3],"nice":false},"axis":{"title":"Tissue loading","values":[0,0.1,0.2,0.3,0.4,0.5],"labelExpr":"round(datum.value*10)%2==0 ? format(datum.value,'.1f') : ''","titlePadding":6}},
 "fill":{"condition":[{"test":"datum.tissue=='cortex'","value":"#000000"},{"test":"datum.tissue=='unlabelled'","value":"#1e1e8c"},{"test":"datum.tissue=='basal ganglia'","value":{"gradient":"linear","x1":0,"y1":0,"x2":0.1,"y2":1,"stops":[{"offset":0,"color":"#ffffff"},{"offset":0.055,"color":"#ffffff"},{"offset":0.055,"color":"#333333"},{"offset":0.065,"color":"#333333"},{"offset":0.065,"color":"#ffffff"},{"offset":0.18,"color":"#ffffff"},{"offset":0.18,"color":"#333333"},{"offset":0.19,"color":"#333333"},{"offset":0.19,"color":"#ffffff"},{"offset":0.305,"color":"#ffffff"},{"offset":0.305,"color":"#333333"},{"offset":0.315,"color":"#333333"},{"offset":0.315,"color":"#ffffff"},{"offset":0.43,"color":"#ffffff"},{"offset":0.43,"color":"#333333"},{"offset":0.44,"color":"#333333"},{"offset":0.44,"color":"#ffffff"},{"offset":0.555,"color":"#ffffff"},{"offset":0.555,"color":"#333333"},{"offset":0.565,"color":"#333333"},{"offset":0.565,"color":"#ffffff"},{"offset":0.68,"color":"#ffffff"},{"offset":0.68,"color":"#333333"},{"offset":0.69,"color":"#333333"},{"offset":0.69,"color":"#ffffff"},{"offset":0.805,"color":"#ffffff"},{"offset":0.805,"color":"#333333"},{"offset":0.815,"color":"#333333"},{"offset":0.815,"color":"#ffffff"},{"offset":0.93,"color":"#ffffff"},{"offset":0.93,"color":"#333333"},{"offset":0.94,"color":"#333333"},{"offset":0.94,"color":"#ffffff"},{"offset":1,"color":"#ffffff"}]}}],"value":"#c8c8c8"},
 "stroke":{"condition":[{"test":"datum.loading==0","value":"#8a8a8a"},{"test":"datum.tissue=='unlabelled'","value":"#1e1e8c"}],"value":"#3c3c3c"}}},
{"width":295,"height":128,"data":{"name":"gene"},"transform":[{"filter":"datum.module == 5"}],"mark":{"type":"area","color":"#000000","interpolate":"monotone"},"encoding":{
 "x":{"field":"rank","type":"quantitative","scale":{"domain":[0,100],"range":[10,258],"nice":false},"axis":{"title":"Ranked genes"}},
 "y":{"field":"loading","type":"quantitative","scale":{"domain":[-0.06,0.06],"range":[100.7,14.3],"nice":false,"zero":false},"axis":{"title":"Gene loading","values":[-0.06,-0.04,-0.02,0,0.02,0.04,0.06],"labelExpr":"round(datum.value*100)%4!=0 ? replace(format(datum.value,'.2f'),'\u2212','-') : ''","titleFontSize":17,"titlePadding":9}},
 "y2":{"datum":0}}},
{"width":254,"height":136,"data":{"name":"indiv"},"transform":[{"filter":"datum.module == 5"}],"mark":{"type":"bar","fill":"#333333","stroke":"#141414","strokeWidth":0.6},"encoding":{
 "x":{"field":"rank","type":"ordinal","scale":{"range":[10,232],"paddingInner":0,"paddingOuter":0},"axis":{"title":"Ranked individuals","titleFontSize":23}},
 "y":{"field":"loading","type":"quantitative","scale":{"domain":[0,0.08],"range":[115.9,27.7],"nice":false},"axis":{"title":"Individual loading","values":[0,0.01,0.02,0.03,0.04,0.05,0.06,0.07,0.08],"labelExpr":"round(datum.value*100)%4==0 ? format(datum.value,'.2f') : ''","titleFontSize":15,"titlePadding":14}}}},

{"width":112,"height":155,"data":{"values":[{"m":"6"}]},"mark":{"type":"text","fontSize":28,"dy":-19.5},"encoding":{"text":{"field":"m"},"y":{"field":"m","type":"nominal","axis":{"orient":"right","domain":true,"domainColor":"#000000","domainWidth":2,"ticks":false,"labels":false,"title":null}}}},
{"width":256,"height":121,"data":{"name":"tissue"},"transform":[{"filter":"datum.module == 6"}],"mark":{"type":"bar","strokeWidth":1},"encoding":{
 "x":{"field":"rank","type":"ordinal","scale":{"domain":[1,2,3,4,5,6,7,8,9,10,11,12,13],"range":[8,229],"paddingInner":0.16,"paddingOuter":0},"axis":{"title":"Ranked tissues"}},
 "y":{"field":"loading","type":"quantitative","scale":{"domain":[0,0.6],"range":[115.7,31],"nice":false},"axis":{"title":"Tissue loading","values":[0,0.1,0.2,0.3,0.4,0.5,0.6],"labelExpr":"round(datum.value*10)%2==0 ? format(datum.value,'.1f') : ''","titlePadding":6}},
 "fill":{"condition":[{"test":"datum.tissue=='cortex'","value":"#000000"},{"test":"datum.tissue=='unlabelled'","value":"#1e1e8c"}],"value":"#c8c8c8"},
 "stroke":{"condition":[{"test":"datum.loading==0","value":"#8a8a8a"},{"test":"datum.tissue=='unlabelled'","value":"#1e1e8c"}],"value":"#3c3c3c"}}},
{"width":295,"height":111,"data":{"name":"gene"},"transform":[{"filter":"datum.module == 6"}],"mark":{"type":"area","color":"#000000","interpolate":"monotone"},"encoding":{
 "x":{"field":"rank","type":"quantitative","scale":{"domain":[0,100],"range":[10,258],"nice":false},"axis":{"title":"Ranked genes"}},
 "y":{"field":"loading","type":"quantitative","scale":{"domain":[-0.06,0.08],"range":[100.7,3.3],"nice":false,"zero":false},"axis":{"title":"Gene loading","values":[-0.06,-0.04,-0.02,0,0.02,0.04,0.06,0.08],"labelExpr":"round(datum.value*100)%4!=0 ? replace(format(datum.value,'.2f'),'\u2212','-') : ''","titleFontSize":17,"titlePadding":9}},
 "y2":{"datum":0.02}}},
{"width":254,"height":125,"data":{"name":"indiv"},"transform":[{"filter":"datum.module == 6"}],"mark":{"type":"bar","fill":"#333333","stroke":"#141414","strokeWidth":0.6},"encoding":{
 "x":{"field":"rank","type":"ordinal","scale":{"range":[10,232],"paddingInner":0,"paddingOuter":0},"axis":{"title":"Ranked individuals","titleFontSize":23}},
 "y":{"field":"loading","type":"quantitative","scale":{"domain":[0,0.1],"range":[116.6,25.5],"nice":false},"axis":{"title":"Individual loading","values":[0,0.01,0.02,0.03,0.04,0.05,0.06,0.07,0.08,0.09,0.1],"labelExpr":"round(datum.value*100)%4==0 ? format(datum.value,'.2f') : ''","titleFontSize":15,"titlePadding":14}}}},

{"width":112,"height":65,"data":{"values":[{"m":"legend"}]},"mark":{"type":"text","fontSize":28},"encoding":{"text":{"value":""},"y":{"field":"m","type":"nominal","axis":{"orient":"right","domain":true,"domainColor":"#000000","domainWidth":2,"ticks":false,"labels":false,"title":null}}}},
{"width":256,"height":65,"data":{"values":[{"item":"cerebellum"},{"item":"cortex"}]},"encoding":{"x":{"field":"item","type":"nominal","scale":{"domain":["cerebellum","cortex"],"range":[-43,229],"padding":0},"axis":null}},"layer":[
 {"mark":{"type":"point","shape":"M-0.84,-1L0.84,-1L0.84,1L-0.84,1Z","size":625,"filled":true,"opacity":1,"stroke":"#000000","strokeWidth":1.5},"encoding":{"fill":{"condition":[{"test":"datum.item=='cortex'","value":"#000000"}],"value":{"gradient":"linear","x1":0,"y1":0,"x2":1,"y2":1,"stops":[{"offset":0,"color":"#ffffff"},{"offset":0.46,"color":"#ffffff"},{"offset":0.46,"color":"#000000"},{"offset":0.54,"color":"#000000"},{"offset":0.54,"color":"#ffffff"},{"offset":1,"color":"#ffffff"}]}}}},
 {"mark":{"type":"text","align":"left","baseline":"middle","dx":44,"fontSize":29},"encoding":{"text":{"field":"item"}}}
]},
{"width":295,"height":65,"data":{"values":[{"item":"basal ganglia"}]},"encoding":{"x":{"field":"item","type":"nominal","scale":{"domain":["basal ganglia"],"range":[127,127],"padding":0},"axis":null}},"layer":[
 {"mark":{"type":"point","shape":"M-0.84,-1L0.84,-1L0.84,1L-0.84,1Z","size":625,"filled":true,"opacity":1,"stroke":"#000000","strokeWidth":1.5,"fill":{"gradient":"linear","x1":0,"y1":0,"x2":1,"y2":1,"stops":[{"offset":0,"color":"#ffffff"},{"offset":0.285,"color":"#ffffff"},{"offset":0.285,"color":"#333333"},{"offset":0.315,"color":"#333333"},{"offset":0.315,"color":"#ffffff"},{"offset":0.705,"color":"#ffffff"},{"offset":0.705,"color":"#333333"},{"offset":0.735,"color":"#333333"},{"offset":0.735,"color":"#ffffff"},{"offset":1,"color":"#ffffff"}]}}},
 {"mark":{"type":"text","align":"left","baseline":"middle","dx":44,"fontSize":29},"encoding":{"text":{"field":"item"}}}
]},
{"width":254,"height":65,"data":{"values":[{"item":"others"}]},"encoding":{"x":{"field":"item","type":"nominal","scale":{"domain":["others"],"range":[86,86],"padding":0},"axis":null}},"layer":[
 {"mark":{"type":"point","shape":"M-0.84,-1L0.84,-1L0.84,1L-0.84,1Z","size":625,"filled":true,"opacity":1,"fill":"#c8c8c8","stroke":"#000000","strokeWidth":1.5}},
 {"mark":{"type":"text","align":"left","baseline":"middle","dx":44,"fontSize":29},"encoding":{"text":{"field":"item"}}}
]}
]
}
